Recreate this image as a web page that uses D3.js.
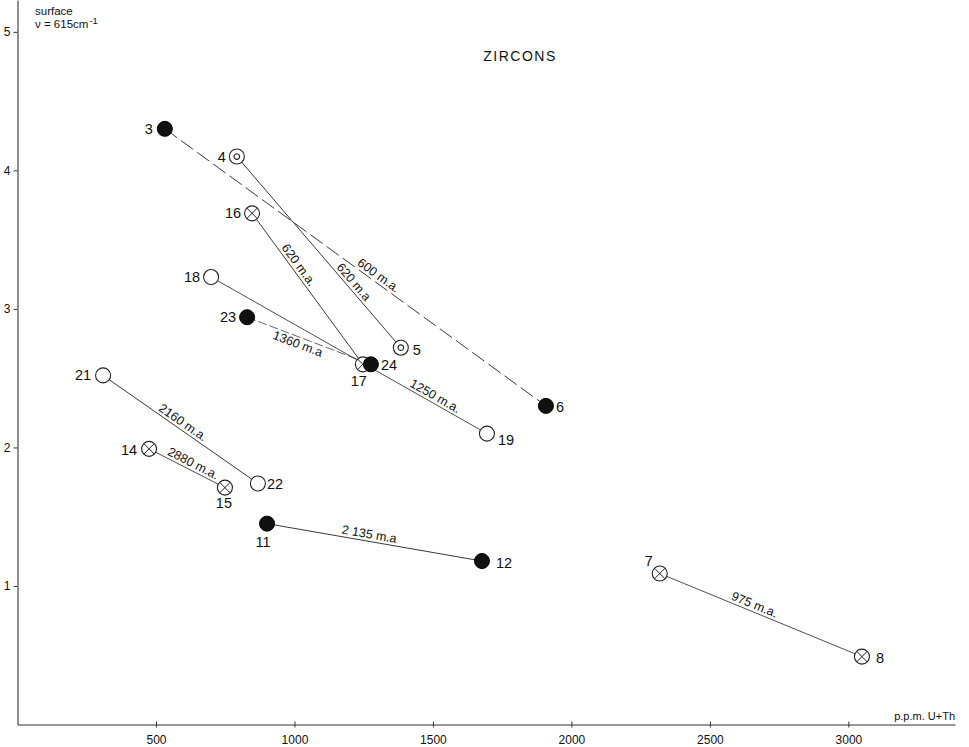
<!DOCTYPE html>
<html>
<head>
<meta charset="utf-8">
<script src="https://cdn.jsdelivr.net/npm/d3@7"></script>
<style>
  html, body { margin: 0; padding: 0; background: #fff; }
  svg { display: block; }
  text { font-family: "Liberation Sans", Arial, sans-serif; fill: #111; }
</style>
</head>
<body>
<svg id="chart" width="969" height="747"></svg>
<script>
// Zircon samples: uranium + thorium content vs. surface absorbance at 615 cm-1
const sampleIds   = [3, 4, 16, 18, 23, 17, 24, 5, 19, 6, 21, 22, 14, 15, 11, 12, 7, 8];
const sampleUTh   = [532, 792, 847, 699, 829, 1247, 1276, 1384, 1695, 1908, 309, 868, 475, 749, 901, 1677, 2319, 3049];
const sampleValue = [4.30, 4.10, 3.69, 3.23, 2.94, 2.60, 2.60, 2.72, 2.10, 2.30, 2.52, 1.74, 1.99, 1.71, 1.45, 1.18, 1.09, 0.49];
const sampleKind  = ["filled", "ringed", "crossed", "open", "filled", "crossed", "filled", "ringed", "open", "filled",
                     "open", "open", "crossed", "crossed", "filled", "filled", "crossed", "crossed"];

// Pairs joined by a line, with the age written along it
const pairFrom  = [3, 4, 16, 23, 18, 21, 14, 11, 7];
const pairTo    = [6, 5, 17, 24, 19, 22, 15, 12, 8];
const pairAge   = ["600 m.a.", "620 m.a", "620 m.a.", "1360 m.a", "1250 m.a.", "2160 m.a.", "2880 m.a.", "2 135 m.a", "975 m.a."];

const xTicks = [500, 1000, 1500, 2000, 2500, 3000];
const yTicks = [1, 2, 3, 4, 5];

const svg = d3.select("#chart");

const x = d3.scaleLinear().domain([0, 3385]).range([17.5, 955]);
const y = d3.scaleLinear().domain([0, 5.23]).range([724.5, 0]);

// ---- axes ----
const xAxis = svg.append("g")
  .attr("transform", `translate(0,${y(0)})`)
  .call(d3.axisBottom(x).tickValues(xTicks).tickFormat(d3.format("d"))
    .tickSizeInner(3).tickSizeOuter(0).tickPadding(8));
xAxis.select(".domain").attr("stroke", "#333").attr("stroke-width", 1.1);
xAxis.selectAll(".tick line").attr("stroke", "#333").attr("y1", -3);
xAxis.selectAll(".tick text").attr("font-size", 12).attr("font-family", "Liberation Sans, Arial, sans-serif").attr("fill", "#111");

const yAxis = svg.append("g")
  .attr("transform", `translate(${x(0)},0)`)
  .call(d3.axisLeft(y).tickValues(yTicks).tickFormat(d3.format("d")).tickSizeInner(4).tickSizeOuter(0).tickPadding(3));
yAxis.select(".domain").attr("stroke", "#333").attr("stroke-width", 1.1);
yAxis.selectAll(".tick line").attr("stroke", "#333");
yAxis.selectAll(".tick text").attr("font-size", 12).attr("font-family", "Liberation Sans, Arial, sans-serif").attr("fill", "#111");

svg.append("text")
  .attr("x", 955).attr("y", 720)
  .attr("text-anchor", "end")
  .attr("font-size", 11)
  .text("p.p.m. U+Th");

// ordinate caption
svg.append("text").attr("x", 35).attr("y", 15).attr("font-size", 11.5).text("surface");
const nuLine = svg.append("text").attr("x", 35).attr("y", 28).attr("font-size", 11.5).text("\u03bd = 615cm");
const nuEnd = 35 + nuLine.node().getComputedTextLength();
svg.append("text").attr("x", nuEnd + 1).attr("y", 24).attr("font-size", 9.5).text("-1");

svg.append("text")
  .attr("x", 520).attr("y", 61)
  .attr("text-anchor", "middle")
  .attr("font-size", 14)
  .attr("letter-spacing", 1.5)
  .text("ZIRCONS");

// ---- data lookup ----
const samples = sampleIds.map((id, i) => ({
  id, u: sampleUTh[i], v: sampleValue[i], kind: sampleKind[i]
}));
const byId = new Map(samples.map(s => [s.id, s]));

// ---- connecting lines with age labels ----
const lineStyle = {
  "3-6":   { dash: "15,5", width: 0.9, t: 0.55, side: "above" },
  "4-5":   { dash: null,   width: 0.9, t: 0.68, side: "above" },
  "16-17": { dash: null,   width: 0.9, t: 0.37, side: "above" },
  "23-24": { dash: "9,3",  width: 0.7, t: 0.43, side: "below" },
  "18-19": { dash: null,   width: 0.8, t: 0.80, side: "above" },
  "21-22": { dash: null,   width: 0.9, t: 0.49, side: "above" },
  "14-15": { dash: null,   width: 0.8, t: 0.54, side: "above" },
  "11-12": { dash: null,   width: 0.9, t: 0.47, side: "above" },
  "7-8":   { dash: null,   width: 0.8, t: 0.455, side: "above" }
};

const links = svg.append("g");
pairFrom.forEach((f, i) => {
  const a = byId.get(f), b = byId.get(pairTo[i]);
  const st = lineStyle[`${f}-${pairTo[i]}`];
  const x1 = x(a.u), y1 = y(a.v), x2 = x(b.u), y2 = y(b.v);
  links.append("line")
    .attr("x1", x1).attr("y1", y1).attr("x2", x2).attr("y2", y2)
    .attr("stroke", "#222")
    .attr("stroke-width", st.width)
    .attr("stroke-dasharray", st.dash);
  const cx = x1 + (x2 - x1) * st.t, cy = y1 + (y2 - y1) * st.t;
  const ang = Math.atan2(y2 - y1, x2 - x1) * 180 / Math.PI;
  links.append("text")
    .attr("transform", `translate(${cx},${cy}) rotate(${ang})`)
    .attr("y", st.side === "above" ? -3 : 11)
    .attr("text-anchor", "middle")
    .attr("font-size", 12.5)
    .text(pairAge[i]);
});

// ---- markers ----
const R = 7.5;
const marks = svg.append("g");
samples.forEach(s => {
  const g = marks.append("g").attr("transform", `translate(${x(s.u)},${y(s.v)})`);
  if (s.kind === "filled") {
    g.append("circle").attr("r", R).attr("fill", "#111").attr("stroke", "#000").attr("stroke-width", 1);
  } else {
    g.append("circle").attr("r", R).attr("fill", "#fff").attr("stroke", "#222").attr("stroke-width", 1.1);
    if (s.kind === "ringed") {
      g.append("circle").attr("r", 2.8).attr("fill", "none").attr("stroke", "#222").attr("stroke-width", 1.1);
    } else if (s.kind === "crossed") {
      const d = R * Math.SQRT1_2;
      g.append("path")
        .attr("d", `M${-d},${-d}L${d},${d}M${-d},${d}L${d},${-d}`)
        .attr("stroke", "#222").attr("stroke-width", 1);
    }
  }
});

// ---- sample numbers ----
const labelAt = {
  3:  [-12, 5, "end"],   4: [-11, 5, "end"],  16: [-11, 5, "end"], 18: [-11, 5, "end"],
  23: [-11, 5, "end"],  17: [-4, 22, "middle"], 24: [10, 6, "start"], 5: [12, 7, "start"],
  19: [11, 11, "start"], 6: [10, 6, "start"], 21: [-12, 5, "end"], 22: [9, 6, "start"],
  14: [-12, 6, "end"],  15: [-1, 20, "middle"], 11: [-4, 23, "middle"], 12: [14, 7, "start"],
  7:  [-7, -8, "end"],   8: [14, 6, "start"]
};
const nums = svg.append("g");
samples.forEach(s => {
  const [dx, dy, anchor] = labelAt[s.id];
  nums.append("text")
    .attr("x", x(s.u) + dx).attr("y", y(s.v) + dy)
    .attr("text-anchor", anchor)
    .attr("font-size", 14.5)
    .text(s.id);
});
</script>
</body>
</html>
